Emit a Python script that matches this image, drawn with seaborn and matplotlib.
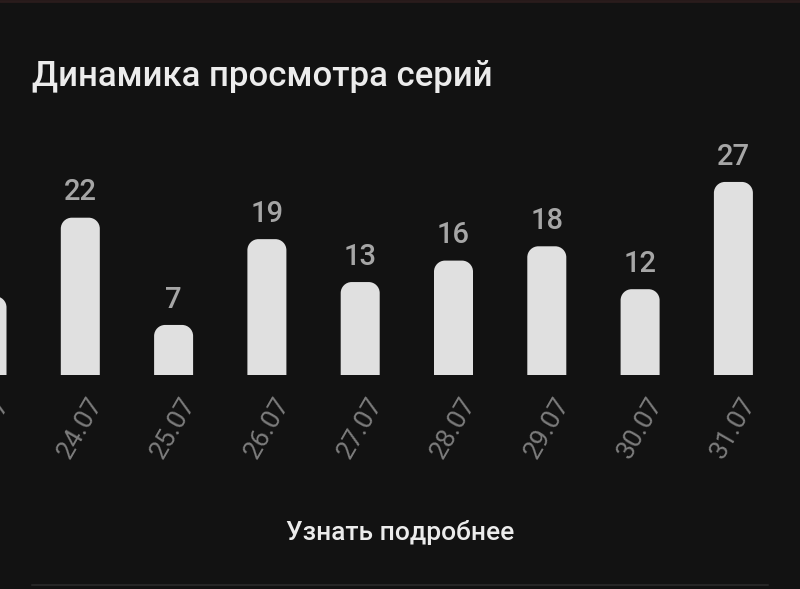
import matplotlib
matplotlib.use("Agg")
import matplotlib.pyplot as plt
from matplotlib.path import Path
from matplotlib.patches import PathPatch
import seaborn as sns
import pandas as pd

dates = ["23.07", "24.07", "25.07", "26.07", "27.07", "28.07", "29.07", "30.07", "31.07"]
views = [11, 22, 7, 19, 13, 16, 18, 12, 27]
title = "Динамика просмотра серий"
button = "Узнать подробнее"

BG = "#121212"
BAR = "#e0e0e0"
VAL = "#a6a6a6"
DATE = "#7c7c7c"

sns.set_theme(style="dark")
plt.rcParams["font.family"] = ["Roboto", "DejaVu Sans"]

W, H = 800, 589
fig = plt.figure(figsize=(W / 100, H / 100), dpi=100, facecolor=BG)
base_px = 375
top_px = 375 - 30 * 7.15
ax = fig.add_axes([0, (H - base_px) / H, 1, (base_px - top_px) / H])
ax.set_facecolor(BG)

df = pd.DataFrame({"date": dates, "views": views})
sns.barplot(data=df, x="date", y="views", order=dates, color=BAR,
            width=0.418, ax=ax, saturation=1)

step = 93.3
xmin, xmax = 13 / step, (W + 13) / step
ax.set_xlim(xmin, xmax)
ax.set_ylim(0, 30)
for s in ax.spines.values():
    s.set_visible(False)
ax.grid(False)
ax.set_xlabel("")
ax.set_ylabel("")
ax.set_yticks([])
ax.set_xticks([])

# rounded tops
px_x = step
px_y = 7.15
r = 11
rx, ry = r / px_x, r / px_y
k = 0.5523
patches = list(ax.patches)
for p in patches:
    x0 = p.get_x()
    w = p.get_width()
    h = p.get_height()
    x1 = x0 + w
    verts = [
        (x0, 0), (x0, h - ry),
        (x0, h - ry + k * ry), (x0 + rx - k * rx, h), (x0 + rx, h),
        (x1 - rx, h),
        (x1 - rx + k * rx, h), (x1, h - ry + k * ry), (x1, h - ry),
        (x1, 0), (x0, 0),
    ]
    codes = [Path.MOVETO, Path.LINETO,
             Path.CURVE4, Path.CURVE4, Path.CURVE4,
             Path.LINETO,
             Path.CURVE4, Path.CURVE4, Path.CURVE4,
             Path.LINETO, Path.CLOSEPOLY]
    ax.add_patch(PathPatch(Path(verts, codes), facecolor=BAR, edgecolor="none"))
    p.remove()

for i, (d, v) in enumerate(zip(dates, views)):
    if xmin <= i <= xmax:
        ax.annotate(str(v), (i, v), xytext=(0, 12.5), textcoords="offset points",
                    ha="center", va="baseline", color=VAL, fontsize=21,
                    weight="medium", annotation_clip=False)
    ax.annotate(d, (i, 0), xytext=(0, -13), textcoords="offset points",
                ha="center", va="top", rotation=60, color=DATE, fontsize=19,
                annotation_clip=False)

fig.text(32 / W, 1 - 86 / H, title, color="#ececec", fontsize=25,
         weight="medium", ha="left", va="baseline")
fig.text(400 / W, 1 - 540 / H, button, color="#ececec", fontsize=19,
         weight="medium", ha="center", va="baseline")

fig.add_artist(plt.Line2D([32 / W, 768 / W], [1 - 585 / H] * 2,
                          color="#262626", lw=1.5))
fig.add_artist(plt.Line2D([0, 1], [1 - 1 / H] * 2, color="#2a1c1c", lw=2))

fig.savefig("out.png", dpi=100, facecolor=BG)
